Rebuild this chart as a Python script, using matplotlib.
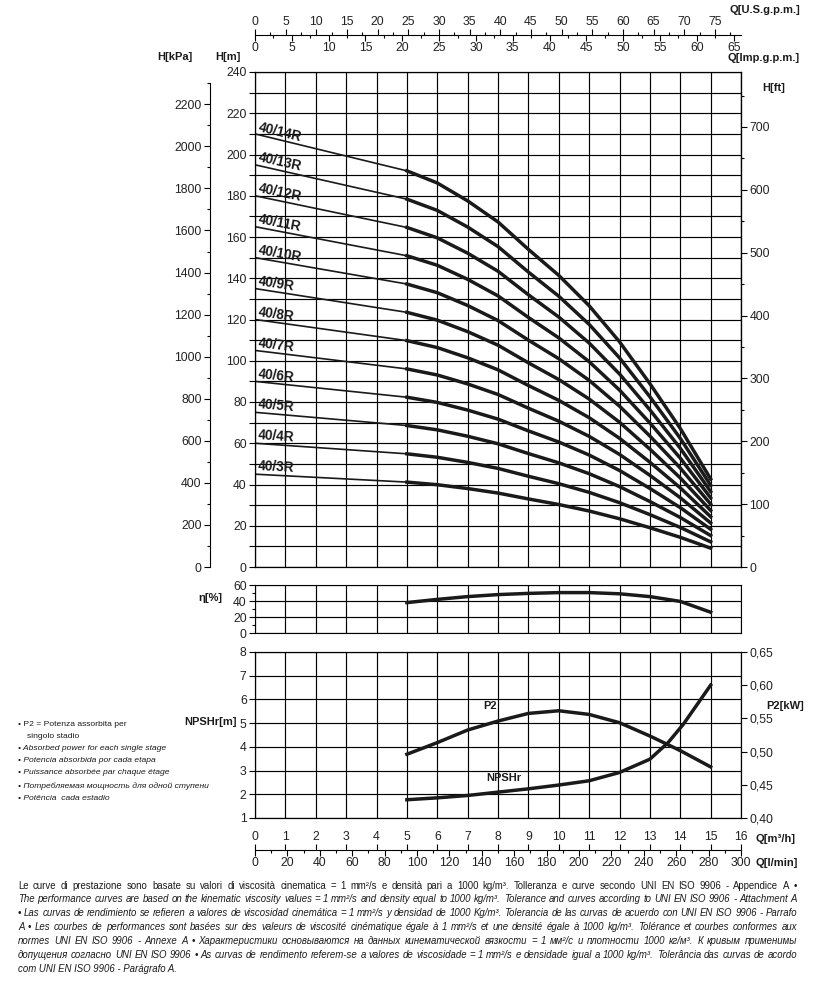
import numpy as np
import matplotlib.pyplot as plt
from matplotlib.ticker import MultipleLocator, FuncFormatter

W_PX, H_PX = 815, 983

# ---- data ----
stages = [14, 13, 12, 11, 10, 9, 8, 7, 6, 5, 4, 3]
q_head = [0, 5, 6, 7, 8, 9, 10, 11, 12, 13, 14, 15]          # m3/h
head_per_stage = [15.0, 13.72, 13.3, 12.68, 11.95, 11.0, 10.1, 9.05, 7.8, 6.35, 4.8, 3.05]  # m

q_eta = [5, 6, 7, 8, 9, 10, 11, 12, 13, 14, 15]
eta = [38, 42, 45.5, 48, 49.5, 50.5, 50.5, 49, 45.5, 39.5, 26]

q_npsh = [5, 6, 7, 8, 9, 10, 11, 12, 13, 13.6, 14.1, 15]
npsh = [1.77, 1.85, 1.95, 2.09, 2.23, 2.39, 2.57, 2.92, 3.48, 4.18, 4.95, 6.6]

q_p2 = [5, 6, 7, 8, 9, 10, 11, 12, 13, 14, 15]
p2 = [0.496, 0.5135, 0.5325, 0.546, 0.5575, 0.5615, 0.556, 0.5435, 0.5235, 0.5015, 0.477]

legend_lines = [
    ("• P2 = Potenza assorbita per", "normal", 18),
    ("singolo stadio", "normal", 27),
    ("• Absorbed power for each single stage", "italic", 18),
    ("• Potencia absorbida por cada etapa", "italic", 18),
    ("• Puissance absorbée par chaque étage", "italic", 18),
    ("• Потребляемая мощность для одной ступени", "italic", 18),
    ("• Potência  cada estadio", "italic", 18),
]

footer_lines = [
    ("Le curve di prestazione sono basate su valori di viscosità cinematica = 1 mm²/s e densità pari a 1000 kg/m³. Tolleranza e curve secondo UNI EN ISO 9906 - Appendice A •", "normal"),
    ("The performance curves are based on the kinematic viscosity values = 1 mm²/s and density equal to 1000 kg/m³. Tolerance and curves according to UNI EN ISO 9906 - Attachment A", "italic"),
    ("• Las curvas de rendimiento se refieren a valores de viscosidad cinemática = 1 mm²/s y densidad de 1000 Kg/m³. Tolerancia de las curvas de acuerdo con UNI EN ISO 9906 - Parrafo", "italic"),
    ("A • Les courbes de performances sont basées sur des valeurs de viscosité cinématique égale à 1 mm²/s et une densité égale à 1000 kg/m³. Tolérance et courbes conformes aux", "italic"),
    ("normes UNI EN ISO 9906 - Annexe A • Характеристики основываются на данных кинематической вязкости = 1 мм²/с и плотности 1000 кг/м³. К кривым применимы", "italic"),
    ("допущения согласно UNI EN ISO 9906 • As curvas de rendimento referem-se a valores de viscosidade = 1 mm²/s e densidade igual a 1000 kg/m³. Tolerância das curvas de acordo", "italic"),
    ("com UNI EN ISO 9906 - Parágrafo A.", "italic"),
]

plt.rcParams['font.family'] = ['Liberation Sans', 'DejaVu Sans']
NARROW = ['Liberation Sans Narrow', 'Liberation Sans', 'DejaVu Sans']
INK = '#1a1a1a'
TXT = '#222222'
TICK_FS = 8.8


def box(left, top, right, bottom):
    return [left / W_PX, 1 - bottom / H_PX, (right - left) / W_PX, (bottom - top) / H_PX]


def px_text(x, y, s, **kw):
    kw.setdefault('va', 'center')
    return fig.text(x / W_PX, 1 - y / H_PX, s, **kw)


def style_y(a):
    a.tick_params(axis='y', which='major', direction='out', length=4, width=0.8,
                  labelsize=TICK_FS, pad=2, labelcolor=TXT)
    a.tick_params(axis='y', which='minor', direction='out', length=2.5, width=0.8)


def style_x(a):
    a.tick_params(axis='x', which='major', direction='out', length=4, width=0.8,
                  labelsize=TICK_FS, pad=1, labelcolor=TXT)
    a.tick_params(axis='x', which='minor', direction='out', length=2, width=0.8)


fig = plt.figure(figsize=(W_PX / 100, H_PX / 100), dpi=100)

# ---- main head chart ----
ax = fig.add_axes(box(255, 72, 741, 567))
ax.set_xlim(0, 16)
ax.set_ylim(0, 240)
ax.set_xticks(range(17))
ax.tick_params(axis='x', length=0, labelbottom=False)
ax.yaxis.set_major_locator(MultipleLocator(10))
ax.yaxis.set_major_formatter(FuncFormatter(lambda v, _: f'{v:.0f}' if round(v) % 20 == 0 else ''))
style_y(ax)
ax.grid(True, color='black', lw=0.85)
ax.set_axisbelow(True)
for s in ax.spines.values():
    s.set_linewidth(0.9)

hs = np.array(head_per_stage)
for n in stages:
    ax.plot(q_head[:2], n * hs[:2], color=INK, lw=1.2, solid_capstyle='butt')
    ax.plot(q_head[1:], n * hs[1:], color=INK, lw=2.5, solid_joinstyle='round')
    p0 = ax.transData.transform((q_head[0], n * hs[0]))
    p1 = ax.transData.transform((q_head[1], n * hs[1]))
    ang = np.degrees(np.arctan2(p1[1] - p0[1], p1[0] - p0[0]))
    ax.text(0.07, n * hs[0] - 0.03 * n + 0.6, f'40/{n}R', rotation=ang, rotation_mode='anchor',
            ha='left', va='bottom', fontsize=9.8, fontweight='bold', color=INK)

# kPa axis
ax_k = ax.twinx()
ax_k.set_ylim(0, 240 * 9.80665)
ax_k.spines['right'].set_visible(False)
ax_k.spines['top'].set_visible(False)
ax_k.spines['bottom'].set_visible(False)
ax_k.spines['left'].set_visible(True)
ax_k.spines['left'].set_position(('axes', (210 - 255) / 486))
ax_k.spines['left'].set_bounds(0, 2300)
ax_k.spines['left'].set_linewidth(0.8)
ax_k.yaxis.set_ticks_position('left')
ax_k.yaxis.set_label_position('left')
ax_k.yaxis.set_major_locator(MultipleLocator(200))
ax_k.yaxis.set_minor_locator(MultipleLocator(100))
style_y(ax_k)
ax_k.set_ylim(0, 240 * 9.80665)

# ft axis
ax_f = ax.twinx()
ax_f.set_ylim(0, 240 * 3.28084)
for k in ('left', 'top', 'bottom'):
    ax_f.spines[k].set_visible(False)
ax_f.yaxis.set_major_locator(MultipleLocator(100))
ax_f.yaxis.set_minor_locator(MultipleLocator(50))
style_y(ax_f)

# ---- efficiency ----
ax_e = fig.add_axes(box(255, 585, 741, 633))
ax_e.set_xlim(0, 16)
ax_e.set_ylim(0, 60)
ax_e.set_xticks(range(17))
ax_e.tick_params(axis='x', length=0, labelbottom=False)
ax_e.yaxis.set_major_locator(MultipleLocator(20))
ax_e.yaxis.set_minor_locator(MultipleLocator(10))
style_y(ax_e)
ax_e.grid(True, color='black', lw=0.85)
ax_e.set_axisbelow(True)
ax_e.plot(q_eta, eta, color=INK, lw=2.5)

# ---- NPSHr / P2 ----
ax_n = fig.add_axes(box(255, 652, 741, 818))
ax_n.set_xlim(0, 16)
ax_n.set_ylim(1, 8)
ax_n.set_xticks(range(17))
ax_n.tick_params(axis='x', length=0, labelbottom=False)
ax_n.set_yticks(range(1, 9))
style_y(ax_n)
ax_n.grid(True, color='black', lw=0.85)
ax_n.set_axisbelow(True)
ax_n.plot(q_npsh, npsh, color=INK, lw=2.5)

ax_p = ax_n.twinx()
ax_p.set_ylim(0.40, 0.65)
ax_p.yaxis.set_major_locator(MultipleLocator(0.05))
ax_p.yaxis.set_major_formatter(FuncFormatter(lambda v, _: f'{v:.2f}'.replace('.', ',')))
style_y(ax_p)
ax_p.plot(q_p2, p2, color=INK, lw=2.5)

# ---- top flow scales (Imp below the line, U.S. above) ----
ax_t = fig.add_axes(box(255, 35, 741, 35.05))
ax_t.set_xlim(0, 300 / 4.54609)
ax_t.set_yticks([])
for k in ('left', 'right', 'top'):
    ax_t.spines[k].set_visible(False)
ax_t.patch.set_visible(False)
ax_t2 = ax_t.twiny()
ax_t2.set_xlim(0, 300 / 3.785411)
for k in ax_t2.spines:
    ax_t2.spines[k].set_visible(False)
ax_t.xaxis.tick_bottom()
ax_t2.xaxis.tick_top()
for a in (ax_t, ax_t2):
    a.xaxis.set_major_locator(MultipleLocator(5))
    a.xaxis.set_minor_locator(MultipleLocator(2.5))
    style_x(a)
ax_t2.set_xticks(list(range(0, 80, 5)))

# ---- bottom flow scales (m3/h above the line, l/min below) ----
ax_b = fig.add_axes(box(255, 850, 741, 850.05))
ax_b.set_xlim(0, 300)
ax_b.set_yticks([])
for k in ('left', 'right', 'top'):
    ax_b.spines[k].set_visible(False)
ax_b.patch.set_visible(False)
ax_b2 = ax_b.twiny()
ax_b2.set_xlim(0, 16)
for k in ax_b2.spines:
    ax_b2.spines[k].set_visible(False)
ax_b.xaxis.tick_bottom()
ax_b2.xaxis.tick_top()
ax_b.xaxis.set_major_locator(MultipleLocator(20))
ax_b.xaxis.set_minor_locator(MultipleLocator(10))
ax_b2.set_xticks(range(17))
style_x(ax_b)
style_x(ax_b2)

# ---- axis titles ----
bold = dict(fontsize=8, fontweight='bold', color=INK, family=NARROW)
px_text(175, 57, 'H[kPa]', ha='center', **bold)
px_text(228, 57, 'H[m]', ha='center', **bold)
px_text(800, 10, 'Q[U.S.g.p.m.]', ha='right', **bold)
px_text(800, 58, 'Q[Imp.g.p.m.]', ha='right', **bold)
px_text(762, 88, 'H[ft]', ha='left', **bold)
px_text(222, 598, 'η[%]', ha='right', **bold)
px_text(237, 722, 'NPSHr[m]', ha='right', **bold)
px_text(766, 706, 'P2[kW]', ha='left', **bold)
px_text(755, 839, 'Q[m³/h]', ha='left', **bold)
px_text(755, 863, 'Q[l/min]', ha='left', **bold)
ax_n.text(7.75, 5.72, 'P2', ha='center', va='center', fontsize=8, fontweight='bold', color=INK)
ax_n.text(8.2, 2.68, 'NPSHr', ha='center', va='center', fontsize=8, fontweight='bold', color=INK)

# ---- side legend ----
for (s, st, x), y in zip(legend_lines, [725, 737, 749, 761, 773, 786, 798]):
    px_text(x, y, s, ha='left', fontsize=6.1, style=st, color=INK, family=NARROW)

# ---- footer, justified ----
fig.canvas.draw()
rend = fig.canvas.get_renderer()


def text_w(s, st, size):
    t = fig.text(0, 0, s, fontsize=size, style=st, family=NARROW)
    w = t.get_window_extent(rend).width
    t.remove()
    return w


left_px, right_px = 18, 797
base = 7.5
fit = min((right_px - left_px) / text_w(s, st, base) for s, st in footer_lines[:-1])
size = min(base, base * fit * 0.995)
for i, ((s, st), y) in enumerate(zip(footer_lines, [886, 899, 913, 927, 941, 955, 969])):
    if i == len(footer_lines) - 1:
        px_text(left_px, y, s, ha='left', fontsize=size, style=st, color=INK, family=NARROW)
        continue
    words = s.split()
    widths = [text_w(w, st, size) for w in words]
    gap = (right_px - left_px - sum(widths)) / (len(words) - 1)
    x = left_px
    for w, ww in zip(words, widths):
        px_text(x, y, w, ha='left', fontsize=size, style=st, color=INK, family=NARROW)
        x += ww + gap

fig.savefig('out.png', dpi=100)
